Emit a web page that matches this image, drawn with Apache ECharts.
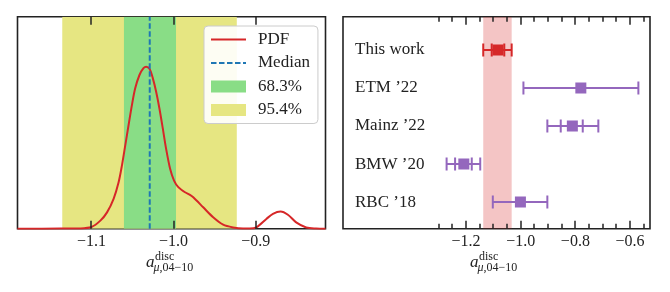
<!DOCTYPE html>
<html>
<head>
<meta charset="utf-8">
<script src="https://cdn.jsdelivr.net/npm/echarts@6/dist/echarts.min.js"></script>
<style>
html,body{margin:0;padding:0;background:#fff;}
#c{width:670px;height:292px;}
</style>
</head>
<body>
<div id="c"></div>
<script>
// ---------- data: left panel (PDF) ----------
const pdfX = [-1.19, -1.1376, -1.1133, -1.100, -1.0891, -1.081, -1.073, -1.0669, -1.0628, -1.0588, -1.0548, -1.0507, -1.0467, -1.0415, -1.0366, -1.0333, -1.0293, -1.0252, -1.0212, -1.0172, -1.0131, -1.0091, -1.0042, -0.9994, -0.9942, -0.9861, -0.98, -0.976, -0.9639, -0.9518, -0.9396, -0.9275, -0.9154, -0.9073, -0.8992, -0.887, -0.879, -0.8697, -0.8608, -0.8507, -0.8385, -0.8264, -0.815];
const pdfY = [0, 0.005, 0.014, 0.08, 0.38, 0.77, 1.41, 2.19, 2.99, 3.93, 4.88, 5.83, 6.62, 7.25, 7.57, 7.64, 7.54, 7.09, 6.46, 5.67, 4.73, 3.78, 2.83, 2.27, 1.96, 1.72, 1.60, 1.48, 1.01, 0.54, 0.19, 0.06, 0.01, 0.01, 0.06, 0.46, 0.70, 0.81, 0.66, 0.30, 0.06, 0.01, 0];
const medianValue = -1.029;
const band68 = [-1.0604, -0.997];
const band95 = [-1.1355, -0.923];
const leftTicks = [-1.1, -1.0, -0.9];
const legendNames = ['PDF', 'Median', '68.3%', '95.4%'];

// ---------- data: right panel (comparison) ----------
const rowNames = ['This work', 'ETM ’22', 'Mainz ’22', 'BMW ’20', 'RBC ’18'];
const rowY = [4, 3, 2, 1, 0];
const centers = [-1.083, -0.780, -0.811, -1.208, -1.001];
const errLo = [-1.137, -0.990, -0.9025, -1.271, -1.102];
const errHi = [-1.033, -0.5695, -0.716, -1.148, -0.9025];
const innerLo = [-1.106, null, -0.8535, -1.240, null];
const innerHi = [-1.060, null, -0.773, -1.179, null];
const thisWorkBand = [-1.137, -1.033];
const rightMajorTicks = [-1.2, -1.0, -0.8, -0.6];
const rightMinorTicks = [-1.3, -1.25, -1.15, -1.1, -1.05, -0.95, -0.9, -0.85, -0.75, -0.7, -0.65, -0.55];

// ---------- axis ranges ----------
const leftX = [-1.19, -0.815], leftY = [0, 10];
const rightX = [-1.65, -0.527], rightY = [-0.7, 4.875];

// ---------- style ----------
const RED = '#d62728', PURPLE = '#9467bd', BLUE = '#1f77b4';
const GREEN = '#89dd86', YELLOW = '#e6e682', PINK = 'rgba(214,39,40,0.27)';
const rowColors = [RED, PURPLE, PURPLE, PURPLE, PURPLE];
const SERIF = '"Liberation Serif", "DejaVu Serif", serif';
const INK = '#222';
const fmt = v => (Math.round(v * 10) / 10).toFixed(1).replace('-', '\u2212');

const chart = echarts.init(document.getElementById('c'));

function labelAxis(grid, range, values) {
  return {
    type: 'value', gridIndex: grid, min: range[0], max: range[1], position: 'bottom',
    axisLine: {show: false, onZero: false}, splitLine: {show: false},
    axisTick: {show: false},
    axisLabel: {show: true, customValues: values, formatter: fmt, margin: 5,
                fontFamily: SERIF, fontSize: 16, color: INK}
  };
}

function bandRender(color) {
  return function (params, api) {
    const cs = params.coordSys;
    const a = api.coord([api.value(0), 0]);
    const b = api.coord([api.value(1), 0]);
    return {type: 'rect', shape: {x: a[0], y: cs.y, width: b[0] - a[0], height: cs.height},
            style: {fill: color}};
  };
}

// inward tick marks on the top and bottom frame edges, placed through the x axis scale
function tickSeries(xi, yi, values, len) {
  return {
    type: 'custom', xAxisIndex: xi, yAxisIndex: yi, clip: false, z: 9,
    data: values.map(v => [v, 0]), encode: {x: 0, y: 1},
    renderItem: function (params, api) {
      const cs = params.coordSys;
      const x = Math.round(api.coord([api.value(0), 0])[0]);
      return {type: 'group', children: [
        {type: 'rect', shape: {x: x - 0.75, y: cs.y + cs.height - len, width: 1.5, height: len}, style: {fill: INK}},
        {type: 'rect', shape: {x: x - 0.75, y: cs.y, width: 1.5, height: len}, style: {fill: INK}}
      ]};
    }
  };
}

const option = {
  animation: false,
  backgroundColor: '#ffffff',
  grid: [
    {left: 17.5, top: 16.7, width: 308, height: 212, show: true, borderColor: INK, borderWidth: 1.6},
    {left: 343, top: 16.7, width: 307, height: 212, show: true, borderColor: INK, borderWidth: 1.6}
  ],
  xAxis: [
    labelAxis(0, leftX, leftTicks),
    labelAxis(1, rightX, rightMajorTicks)
  ],
  yAxis: [
    {type: 'value', gridIndex: 0, min: leftY[0], max: leftY[1], show: false},
    {type: 'value', gridIndex: 1, min: rightY[0], max: rightY[1], position: 'left',
     axisLine: {show: false, onZero: false}, axisTick: {show: false}, splitLine: {show: false},
     axisLabel: {show: true, inside: true, margin: 12, customValues: rowY,
                 formatter: v => rowNames[rowY.indexOf(Math.round(v))] || '',
                 fontFamily: SERIF, fontSize: 17, color: INK}}
  ],
  legend: {
    show: true, orient: 'vertical', left: 204, top: 26,
    data: [
      {name: 'PDF', itemStyle: {opacity: 0}},
      {name: 'Median', itemStyle: {opacity: 0}},
      {name: '68.3%', icon: 'rect'}, {name: '95.4%', icon: 'rect'}
    ],
    itemWidth: 35, itemHeight: 12, itemGap: 6.5,
    padding: [5, 8, 5, 6],
    backgroundColor: 'rgba(255,255,255,0.9)', borderColor: '#cccccc', borderWidth: 1, borderRadius: 4,
    textStyle: {fontFamily: SERIF, fontSize: 17, color: INK, lineHeight: 17, padding: [0, 0, 0, 7]},
    selectedMode: false
  },
  series: [
    {type: 'custom', name: '95.4%', xAxisIndex: 0, yAxisIndex: 0, clip: true,
     itemStyle: {color: YELLOW}, data: [band95], encode: {x: [0, 1]},
     renderItem: bandRender(YELLOW), z: 1},
    {type: 'custom', name: '68.3%', xAxisIndex: 0, yAxisIndex: 0, clip: true,
     itemStyle: {color: GREEN}, data: [band68], encode: {x: [0, 1]},
     renderItem: bandRender(GREEN), z: 2},
    {type: 'line', name: 'PDF', xAxisIndex: 0, yAxisIndex: 0, symbol: 'none', showSymbol: false,
     smooth: 0.3, data: pdfX.map((x, i) => [x, pdfY[i]]),
     lineStyle: {color: RED, width: 2}, itemStyle: {color: RED}, z: 3},
    {type: 'line', name: 'Median', xAxisIndex: 0, yAxisIndex: 0, symbol: 'none', showSymbol: false,
     data: [[medianValue, leftY[0]], [medianValue, leftY[1]]],
     lineStyle: {color: BLUE, width: 2, type: [5.5, 2.5]}, itemStyle: {color: BLUE}, z: 4},
    tickSeries(0, 0, leftTicks, 8),
    {type: 'custom', name: 'band', xAxisIndex: 1, yAxisIndex: 1, clip: true,
     data: [thisWorkBand], encode: {x: [0, 1]}, renderItem: bandRender(PINK), z: 1},
    tickSeries(1, 1, rightMajorTicks, 8),
    tickSeries(1, 1, rightMinorTicks, 5),
    {type: 'custom', name: 'results', xAxisIndex: 1, yAxisIndex: 1, clip: true,
     data: rowNames.map((n, i) => [rowY[i], centers[i], errLo[i], errHi[i]]),
     encode: {x: [1, 2, 3], y: 0}, z: 3,
     renderItem: function (params, api) {
       const i = params.dataIndex;
       const y = api.value(0);
       const c = api.coord([api.value(1), y]);
       const l = api.coord([api.value(2), y]);
       const h = api.coord([api.value(3), y]);
       const col = rowColors[i];
       const st = {stroke: col, lineWidth: 2};
       const capH = 13;
       const cap = p => ({type: 'line', shape: {x1: p[0], y1: p[1] - capH / 2, x2: p[0], y2: p[1] + capH / 2}, style: st});
       const ch = [
         {type: 'line', shape: {x1: l[0], y1: l[1], x2: h[0], y2: h[1]}, style: st},
         cap(l), cap(h)
       ];
       if (innerLo[i] !== null) {
         ch.push(cap(api.coord([innerLo[i], y])));
         ch.push(cap(api.coord([innerHi[i], y])));
       }
       ch.push({type: 'rect', shape: {x: c[0] - 5.5, y: c[1] - 5.5, width: 11, height: 11}, style: {fill: col}});
       return {type: 'group', children: ch};
     }}
  ],
  graphic: [
    {type: 'text', x: 146, y: 262.5, style: {text: 'a', font: 'italic 17px ' + SERIF, fill: INK, textAlign: 'left', textVerticalAlign: 'middle'}},
    {type: 'text', x: 155, y: 256.5, style: {text: 'disc', font: '12px ' + SERIF, fill: INK, textAlign: 'left', textVerticalAlign: 'middle'}},
    {type: 'text', x: 153.5, y: 267.5, style: {text: '{m|μ}{n|,04\u221210}', rich: {m: {font: 'italic 12px ' + SERIF, fill: INK}, n: {font: '12px ' + SERIF, fill: INK}}, textAlign: 'left', textVerticalAlign: 'middle'}},
    {type: 'text', x: 470, y: 262.5, style: {text: 'a', font: 'italic 17px ' + SERIF, fill: INK, textAlign: 'left', textVerticalAlign: 'middle'}},
    {type: 'text', x: 479, y: 256.5, style: {text: 'disc', font: '12px ' + SERIF, fill: INK, textAlign: 'left', textVerticalAlign: 'middle'}},
    {type: 'text', x: 477.5, y: 267.5, style: {text: '{m|μ}{n|,04\u221210}', rich: {m: {font: 'italic 12px ' + SERIF, fill: INK}, n: {font: '12px ' + SERIF, fill: INK}}, textAlign: 'left', textVerticalAlign: 'middle'}}
  ]
};
chart.setOption(option);
</script>
</body>
</html>
